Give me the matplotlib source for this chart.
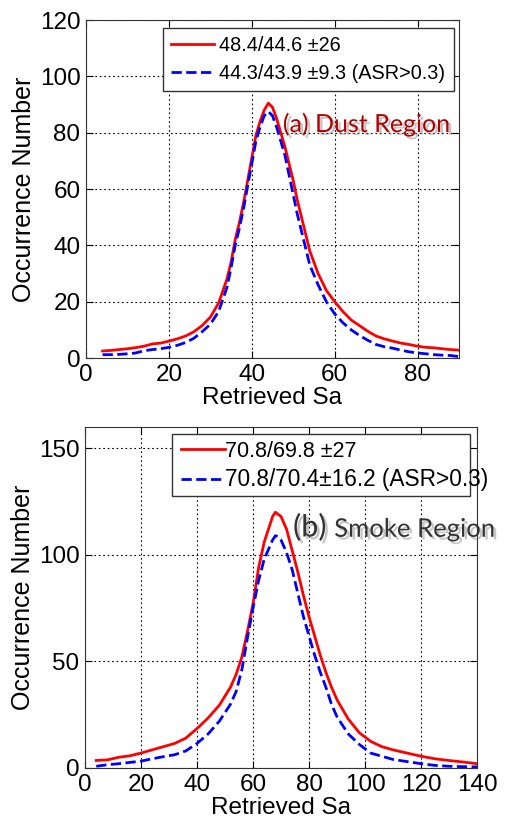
import numpy as np
import matplotlib
matplotlib.use('Agg')
import matplotlib.pyplot as plt
import matplotlib.patheffects as pe
from matplotlib.patches import Rectangle

plt.rcParams['font.family'] = ['Liberation Sans', 'DejaVu Sans']

# (a) dust region
dust_x = [4, 6, 8, 10, 12, 14, 16, 18, 20, 22, 24, 26, 28, 30, 32, 34, 35, 36, 37, 38, 39,
          40, 41, 42, 43, 44, 45, 46, 47, 48, 49, 50, 51, 52, 53, 54, 56, 58, 60, 62, 64,
          66, 68, 70, 72, 74, 76, 78, 80, 82, 84, 86, 88, 90]
dust_all = [2.5, 2.7, 3.0, 3.3, 3.7, 4.2, 5.0, 5.3, 6.0, 6.8, 7.8, 9.3, 11.5, 14.5, 19.5, 28, 34,
            42, 48, 55, 63, 71, 79, 84, 88, 90.5, 89, 85, 80, 75, 69, 63, 56, 50, 44, 38, 30,
            24, 20, 16.5, 13.5, 11.5, 9.5, 7.8, 6.8, 6.0, 5.3, 4.8, 4.2, 3.8, 3.6, 3.3, 3.0, 2.8]
dust_asr = [1.2, 1.2, 1.3, 1.5, 1.8, 2.6, 3.0, 3.3, 3.8, 4.5, 5.5, 7.0, 9.3, 12, 16.5, 25, 32,
            40, 46, 53, 61, 69, 77, 82, 86, 87.5, 86, 82, 77, 72, 65, 58, 51, 45, 39, 33, 26,
            20, 15.7, 12.5, 10, 8, 6.3, 4.8, 4.0, 3.5, 2.8, 2.2, 1.8, 1.5, 1.2, 1.0, 0.9, 0.5]

# (b) smoke region
smoke_x = [4, 8, 12, 16, 20, 24, 28, 32, 36, 40, 44, 48, 52, 54, 56, 58, 60, 62, 64, 66, 67,
           68, 69, 70, 72, 74, 76, 78, 80, 82, 84, 86, 88, 90, 94, 98, 102, 106, 110, 115,
           120, 125, 130, 135, 140]
smoke_all = [3.5, 3.8, 5, 5.7, 7, 8.5, 10, 11.5, 14, 18.5, 23.5, 29.5, 38, 44, 52, 64, 77, 94,
             106, 114, 118, 120, 119, 118, 112, 102, 92, 81, 71, 62, 53, 45, 38, 32, 23, 16.5,
             12.5, 10, 8.5, 7, 5.5, 4.3, 3.5, 2.8, 2.0]
smoke_asr = [0.8, 1.5, 2, 2.6, 3.2, 4.3, 5.3, 6.2, 8, 11.5, 16, 22, 30, 36, 46, 61, 75, 88, 98,
             104, 107, 109, 108.5, 107, 101, 93, 82, 71, 62, 53, 45, 38, 30, 24, 16, 11, 7,
             5.5, 4, 3, 2, 1.2, 0.8, 0.6, 0.5]

dust_labels = ['48.4/44.6 \u00b126', '44.3/43.9 \u00b19.3 (ASR>0.3)']
smoke_labels = ['70.8/69.8 \u00b127', '70.8/70.4\u00b116.2 (ASR>0.3)']

fig = plt.figure(figsize=(5.10, 8.21), dpi=100)
ax1 = fig.add_axes([0.1686, 0.5639, 0.7314, 0.4117])
ax2 = fig.add_axes([0.1667, 0.0646, 0.7686, 0.4153])

shadow = [pe.withSimplePatchShadow(offset=(2, -2), shadow_rgbFace='gray', alpha=0.45)]


def style(ax):
    ax.grid(True, linestyle=(0, (1.5, 2.5)), color='black', linewidth=0.8)
    ax.tick_params(direction='in', top=True, right=True, labelsize=17.5, length=5, pad=4)
    ax.set_xlabel('Retrieved Sa', fontsize=17.5, labelpad=1)
    ax.set_ylabel('Occurrence Number', fontsize=18, labelpad=3)
    for s in ax.spines.values():
        s.set_color('#333333')


ax1.plot(dust_x, dust_all, color='red', lw=2, label=dust_labels[0])
ax1.plot(dust_x, dust_asr, color='blue', lw=2, ls='--', label=dust_labels[1])
ax1.set_xlim(0, 90)
ax1.set_ylim(0, 120)
ax1.set_xticks([0, 20, 40, 60, 80])
ax1.set_yticks([0, 20, 40, 60, 80, 100, 120])
style(ax1)
leg1 = ax1.legend(loc='upper left', bbox_to_anchor=(0.206, 0.976), borderaxespad=0,
                  fontsize=14.3, fancybox=False, edgecolor='#333333', framealpha=1,
                  handlelength=2.2, handletextpad=0.25, labelspacing=0.45, borderpad=0.4)
leg1.get_frame().set_linewidth(1.0)
ax1.text(47.5, 83, '(a) Dust Region', color='#b00000', fontsize=18, va='center',
         family=['Lato', 'DejaVu Sans'], path_effects=shadow)

ax2.plot(smoke_x, smoke_all, color='red', lw=2, label=smoke_labels[0])
ax2.plot(smoke_x, smoke_asr, color='blue', lw=2, ls='--', label=smoke_labels[1])
ax2.set_xlim(0, 140)
ax2.set_ylim(0, 160)
ax2.set_xticks(np.arange(0, 141, 20))
ax2.set_yticks([0, 50, 100, 150])
style(ax2)
# legend frame drawn as a fixed box; second label spills past it like the original
ax2.add_patch(Rectangle((0.222, 0.798), 0.760, 0.182, transform=ax2.transAxes,
                        facecolor='white', edgecolor='#333333', lw=1.0, zorder=4))
leg2 = ax2.legend(loc='upper left', bbox_to_anchor=(0.222, 0.985), borderaxespad=0,
                  fontsize=15.5, frameon=False, handlelength=2.05, handletextpad=0.0,
                  labelspacing=0.3, borderpad=0.4)
leg2.set_zorder(5)
leg2.get_texts()[1].set_fontsize(16.3)
ax2.text(74.3, 113, '(b)', color='#333333', fontsize=22, va='center',
         family=['Lato', 'DejaVu Sans'], path_effects=shadow)
ax2.text(89, 112, 'Smoke Region', color='#333333', fontsize=18.5, va='center',
         family=['Lato', 'DejaVu Sans'], path_effects=shadow)

fig.savefig('out.png', dpi=100)
